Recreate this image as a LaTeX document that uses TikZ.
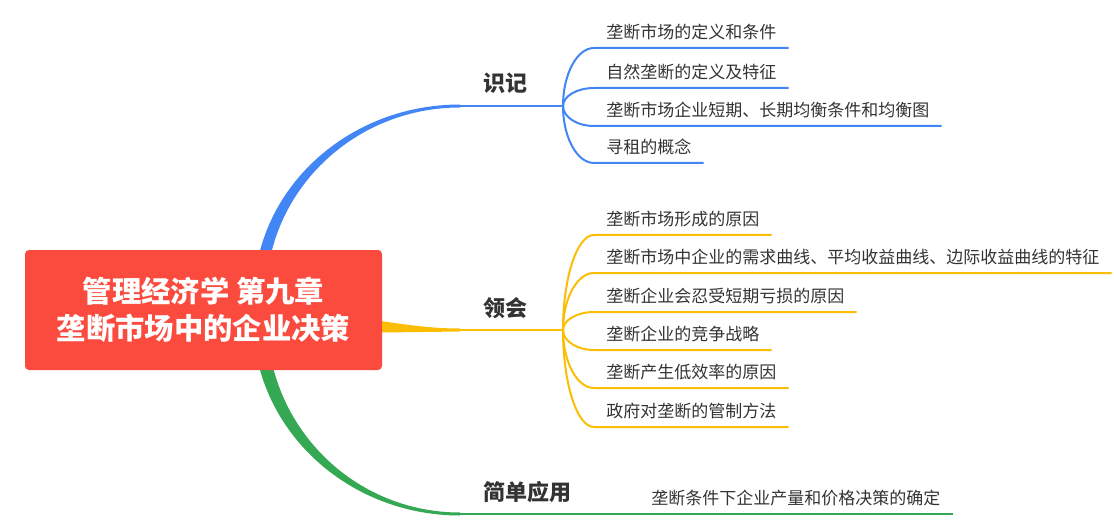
\documentclass[tikz,border=0pt]{standalone}
\usepackage{fontspec}
\setmainfont{Noto Sans CJK SC}
\usetikzlibrary{calc}
\definecolor{rootred}{RGB}{250,75,62}
\definecolor{mmblue}{RGB}{66,133,244}
\definecolor{mmyellow}{RGB}{252,190,4}
\definecolor{mmgreen}{RGB}{52,168,83}
\definecolor{txtgray}{RGB}{51,51,51}

\begin{document}
\begin{tikzpicture}[x=0.75pt, y=-0.75pt,
  root/.style={fill=rootred, rounded corners=3pt, text=white, align=center,
               minimum width=267.75pt, minimum height=90pt, inner sep=0pt,
               font=\fontsize{22pt}{28pt}\selectfont\bfseries},
  topic/.style={text=txtgray, inner sep=0pt, font=\fontsize{16.5pt}{20pt}\selectfont\bfseries},
  leaf/.style={anchor=south west, text=txtgray, inner xsep=9pt, inner ysep=6.75pt,
               text depth=0pt, font=\fontsize{12.75pt}{15pt}\selectfont},
  twig/.style={line width=1.5pt}]
  \useasboundingbox (0,0) rectangle (1114,531);

  % branch ends
  \coordinate (bs) at (260,297);
  \coordinate (gs) at (260,319);
  \coordinate (sj-in) at (460,106);
  \coordinate (sj-fork) at (563,106);
  \coordinate (lh-in) at (460,330);
  \coordinate (lh-fork) at (563,330);
  \coordinate (jd-in) at (460,514);

  % tapered main branches
  \fill[mmblue] ($(bs)+(-6,0)$) .. controls ($(bs)+(-6,-106)$) and ($(sj-in)+(-114,-1.5)$) .. ($(sj-in)+(0,-1.5)$)
    -- ($(sj-in)+(0,1.5)$) .. controls ($(sj-in)+(-107,1.5)$) and ($(bs)+(6,-105)$) .. ($(bs)+(6,0)$) -- cycle;
  \fill[mmgreen] ($(gs)+(-7,0)$) .. controls ($(gs)+(-7,109)$) and ($(jd-in)+(-114,1.5)$) .. ($(jd-in)+(0,1.5)$)
    -- ($(jd-in)+(0,-1.5)$) .. controls ($(jd-in)+(-107,-1.5)$) and ($(gs)+(7,107)$) .. ($(gs)+(7,0)$) -- cycle;
  \fill[mmyellow] (300,312) .. controls (380,318) and ($(lh-in)+(-50,-1.5)$) .. ($(lh-in)+(0,-1.5)$)
    -- ($(lh-in)+(0,1.5)$) .. controls (420,332) and (380,333) .. (300,332) -- cycle;

  \node[root] (root) at (203.5,310) {管理经济学 第九章\\垄断市场中的企业决策};

  % topics
  \node[topic] (sj) at (505,83) {识记};
  \node[topic] (lh) at (505,308) {领会};
  \node[topic] (jd) at (527,492) {简单应用};
  \draw[mmblue, line width=2pt] (sj-in) -- (sj-fork);
  \draw[mmyellow, line width=2pt] (lh-in) -- (lh-fork);

  % leaves
  \node[leaf] (sj1) at (594,48) {垄断市场的定义和条件};
  \node[leaf] (sj2) at (594,88) {自然垄断的定义及特征};
  \node[leaf] (sj3) at (594,126) {垄断市场企业短期、长期均衡条件和均衡图};
  \node[leaf] (sj4) at (594,163) {寻租的概念};

  \node[leaf] (lh1) at (594,235) {垄断市场形成的原因};
  \node[leaf] (lh2) at (594,273) {垄断市场中企业的需求曲线、平均收益曲线、边际收益曲线的特征};
  \node[leaf] (lh3) at (594,312) {垄断企业会忍受短期亏损的原因};
  \node[leaf] (lh4) at (594,350) {垄断企业的竞争战略};
  \node[leaf] (lh5) at (594,388) {垄断产生低效率的原因};
  \node[leaf] (lh6) at (594,427) {政府对垄断的管制方法};

  \node[leaf] (jd1) at (639,514) {垄断条件下企业产量和价格决策的确定};

  \foreach \n in {sj1,sj2,sj3,sj4}
    \draw[mmblue, twig] (sj-fork) .. controls ($(sj-fork)!0.55!(sj-fork |- \n.south west)$)
      and ($(\n.south west)+(-17,0)$) .. (\n.south west) -- (\n.south east);
  \foreach \n in {lh1,lh2,lh3,lh4,lh5,lh6}
    \draw[mmyellow, twig] (lh-fork) .. controls ($(lh-fork)!0.55!(lh-fork |- \n.south west)$)
      and ($(\n.south west)+(-17,0)$) .. (\n.south west) -- (\n.south east);
  \draw[mmgreen, line width=1.8pt] (jd-in) -- (jd1.south east);
\end{tikzpicture}
\end{document}
